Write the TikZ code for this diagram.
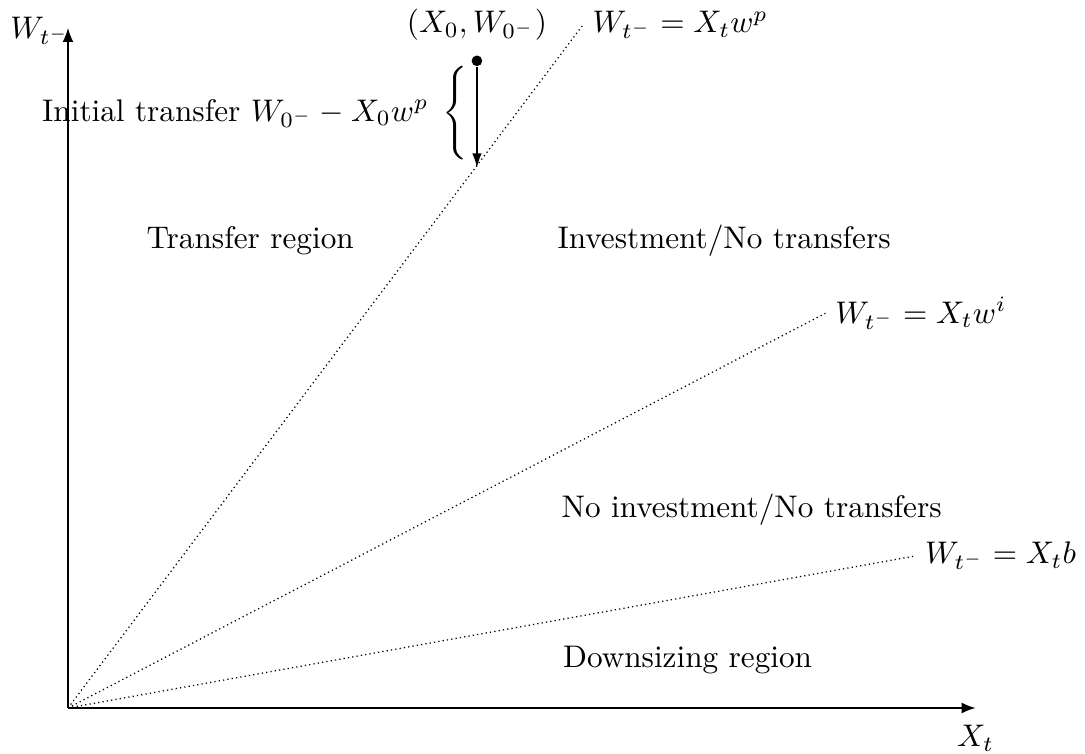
\documentclass[tikz,border=0pt]{standalone}
\usepackage{amsmath}
\usetikzlibrary{arrows.meta, positioning, calc}
\tikzset{
  %% ---- lines ----
  axis/.style   = {-{Latex[length=4.5pt,width=3.5pt]}, line width=0.5pt},
  bound/.style  = {densely dotted, line width=0.4pt},
  jump/.style   = {-{Latex[length=4.5pt,width=3pt]}, line width=0.4pt},
  %% ---- labels ----
  region/.style = {font=\normalsize, inner sep=0pt},
  eqlbl/.style  = {right, inner sep=3pt},
}
\begin{document}
\begin{tikzpicture}
\useasboundingbox (-0.765,-0.517) rectangle (11.44,7.964);
\coordinate (O)  at (0,0);
\coordinate (xe) at (10.21,0);
\coordinate (ye) at (0,7.65);
\coordinate (wp) at (5.79,7.68);
\coordinate (wi) at (8.52,4.44);
\coordinate (bb) at (9.53,1.71);
\coordinate (hit) at (4.60,6.08);

% axes
\draw[axis] (O) -- (xe);
\draw[axis] (O) -- (ye);
\node[below=2pt of xe] (xlbl) {$X_t$};
\node[left=-4pt of ye, yshift=-1pt] (ylbl) {$W_{t^-}$};

% boundaries
\draw[bound] (O) -- (wp) node[eqlbl] (wplbl) {$W_{t^-} = X_t w^p$};
\draw[bound] (O) -- (wi) node[eqlbl] (wilbl) {$W_{t^-} = X_t w^i$};
\draw[bound] (O) -- (bb) node[eqlbl] (bblbl) {$W_{t^-} = X_t b$};

% initial point and transfer
\node[circle, fill, inner sep=0pt, minimum size=3.4pt] (x0) at (4.60,7.28) {};
\node[above=1pt of x0] (x0lbl) {$(X_0, W_{0^-})$};
\draw[jump] (x0) -- (hit);
\node[anchor=east, inner sep=1pt] (trans) at (4.58,6.68)
  {Initial transfer $W_{0^-} - X_0 w^p \;\left\{\vrule height 13pt depth 13pt width 0pt\right.$};

% regions
\node[region] (r1) at (2.05,5.26) {Transfer region};
\node[region] (r2) at (7.38,5.26) {Investment/No transfers};
\node[region] (r3) at (7.69,2.23) {No investment/No transfers};
\node[region] (r4) at (6.97,0.54) {Downsizing region};
\end{tikzpicture}
\end{document}
